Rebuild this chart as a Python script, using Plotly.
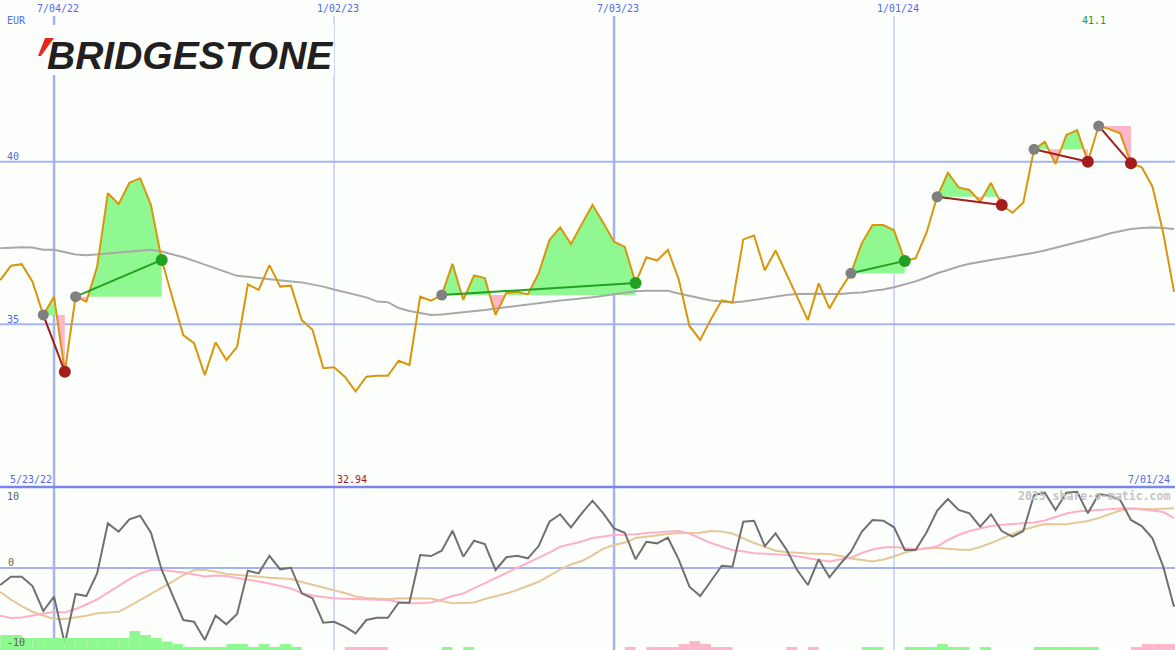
import pandas as pd
import plotly.graph_objects as go

# ---------------- data ----------------
start_date = "2022-05-30"
n_weeks = 110
dates = list(pd.date_range(start_date, periods=n_weeks, freq="7D"))

price = [36.36, 36.80, 36.85, 36.31, 35.29, 35.85, 33.54, 35.85, 35.70, 36.77,
         39.03, 38.70, 39.35, 39.49, 38.67, 36.98, 35.81, 34.67, 34.42, 33.44,
         34.45, 33.90, 34.31, 36.23, 36.06, 36.82, 36.16, 36.19, 35.13, 34.83,
         33.65, 33.68, 33.39, 32.94, 33.39, 33.42, 33.42, 33.88, 33.75, 35.85,
         35.73, 35.90, 36.86, 35.75, 36.50, 36.42, 35.29, 35.97, 36.00, 35.92,
         36.57, 37.59, 37.98, 37.47, 38.08, 38.67, 38.12, 37.54, 37.38, 36.27,
         37.06, 36.96, 37.29, 36.39, 34.95, 34.52, 35.16, 35.74, 35.67, 37.61,
         37.73, 36.66, 37.27, 36.55, 35.84, 35.13, 36.26, 35.49, 36.06, 36.57,
         37.49, 38.05, 38.05, 37.89, 36.95, 37.03, 37.80, 38.92, 39.66, 39.21,
         39.13, 38.77, 39.35, 38.67, 38.43, 38.74, 40.38, 40.61, 39.93, 40.82,
         40.97, 40.00, 41.10, 41.00, 40.87, 39.95, 39.83, 39.23, 37.80, 36.00]

moving_avg = [37.34, 37.36, 37.37, 37.36, 37.29, 37.29, 37.21, 37.15, 37.12, 37.15,
              37.19, 37.22, 37.25, 37.27, 37.29, 37.24, 37.16, 37.06, 36.95, 36.84,
              36.73, 36.62, 36.49, 36.46, 36.42, 36.38, 36.35, 36.32, 36.29, 36.23,
              36.16, 36.07, 35.99, 35.91, 35.83, 35.70, 35.68, 35.50, 35.41, 35.35,
              35.29, 35.30, 35.33, 35.37, 35.41, 35.44, 35.49, 35.53, 35.58, 35.63,
              35.66, 35.70, 35.73, 35.76, 35.79, 35.83, 35.88, 35.93, 35.98, 36.02,
              36.03, 36.03, 36.03, 35.95, 35.87, 35.79, 35.73, 35.70, 35.67, 35.70,
              35.75, 35.81, 35.86, 35.90, 35.93, 35.94, 35.94, 35.93, 35.93, 35.96,
              35.98, 36.03, 36.07, 36.14, 36.22, 36.32, 36.44, 36.57, 36.67, 36.78,
              36.86, 36.93, 36.98, 37.03, 37.08, 37.13, 37.20, 37.27, 37.35, 37.43,
              37.52, 37.61, 37.69, 37.79, 37.86, 37.93, 37.96, 37.98, 37.96, 37.93]

oscillator = [-2.33, -1.19, -1.19, -2.47, -5.89, -3.93, -10.41, -3.56, -3.84, -0.73,
              6.12, 4.97, 6.67, 7.16, 4.84, -0.27, -3.70, -7.12, -7.36, -9.86,
              -6.53, -7.71, -6.30, -0.37, -0.73, 1.68, -0.18, 0.04, -3.47, -4.15,
              -7.49, -7.36, -8.04, -8.95, -7.12, -6.81, -6.81, -4.75, -4.75, 1.78,
              1.64, 2.37, 5.11, 1.55, 3.74, 3.29, -0.27, 1.47, 1.68, 1.33,
              3.01, 6.34, 7.36, 5.58, 7.49, 9.22, 7.49, 5.44, 4.84, 1.19,
              3.60, 3.38, 4.15, 1.19, -2.56, -3.84, -1.78, 0.32, 0.18, 6.34,
              6.48, 3.01, 4.75, 2.56, -0.27, -2.33, 1.19, -1.27, 0.55, 2.23,
              4.97, 6.58, 6.48, 5.58, 2.47, 2.47, 4.84, 7.85, 9.45, 7.95,
              7.49, 5.66, 7.36, 5.07, 4.29, 5.07, 10.00, 10.32, 7.95, 10.32,
              10.45, 7.49, 10.14, 9.90, 9.32, 6.58, 5.75, 4.07, 0.18, -5.30]

osc_pink = [-6.53, -6.85, -6.78, -6.53, -6.23, -5.99, -6.10, -5.62, -5.00, -4.29,
            -3.36, -2.47, -1.51, -0.75, -0.27, -0.27, -0.41, -0.62, -0.89, -1.16,
            -1.03, -1.10, -1.37, -1.58, -1.85, -2.12, -2.47, -2.81, -3.42, -3.77,
            -3.97, -4.15, -4.22, -4.25, -4.25, -4.25, -4.38, -4.66, -4.84, -4.84,
            -4.73, -4.32, -3.84, -3.47, -2.74, -2.05, -1.37, -0.68, 0.00, 0.68,
            1.37, 2.12, 2.92, 3.29, 3.63, 4.11, 4.32, 4.52, 4.56, 4.62,
            4.79, 4.90, 4.97, 5.07, 4.73, 4.11, 3.42, 2.95, 2.47, 2.26,
            2.01, 1.96, 1.92, 1.78, 1.62, 1.33, 1.10, 0.89, 1.16, 1.44,
            2.05, 2.53, 2.81, 2.88, 2.74, 2.56, 2.67, 2.95, 3.84, 4.52,
            5.07, 5.44, 5.75, 5.92, 6.03, 6.10, 6.23, 6.51, 6.99, 7.47,
            7.74, 7.85, 7.95, 8.08, 8.15, 8.15, 8.04, 7.88, 7.67, 6.85]

osc_tan = [-3.25, -4.32, -5.21, -5.99, -6.51, -6.99, -6.99, -6.78, -6.53, -6.21,
           -6.07, -5.99, -5.21, -4.38, -3.49, -2.74, -1.85, -0.96, -0.27, -0.27,
           -0.48, -0.82, -0.96, -1.14, -1.23, -1.32, -1.41, -1.51, -1.92, -2.33,
           -2.67, -3.05, -3.42, -3.90, -4.11, -4.25, -4.29, -4.15, -4.15, -4.15,
           -4.18, -4.52, -4.84, -4.79, -4.73, -4.25, -3.90, -3.49, -3.01, -2.40,
           -1.88, -1.03, -0.21, 0.48, 0.96, 1.74, 2.67, 3.15, 3.49, 4.11,
           4.32, 4.48, 4.66, 4.79, 4.79, 4.84, 5.07, 5.00, 4.73, 4.11,
           3.42, 2.92, 2.37, 2.19, 2.05, 1.99, 1.95, 1.92, 1.64, 1.30,
           1.10, 0.89, 1.16, 1.58, 2.12, 2.47, 2.78, 2.74, 2.60, 2.53,
           2.47, 2.88, 3.42, 4.07, 4.66, 5.25, 5.68, 6.03, 6.00, 5.99,
           6.23, 6.44, 6.85, 7.40, 7.88, 8.15, 8.08, 8.04, 8.11, 8.18]

signal_bars = [15, 15, 12, 12, 12, 12, 12, 12, 12, 12,
               12, 12, 19, 15, 12, 8.5, 6, 3, 3, 3,
               3, 6, 6, 3, 6, 3, 6, 3, 0, 0,
               0, 0, -3, -3, -3, -3, 0, 0, 0, 0,
               0, 3, 0, 3, 0, 0, 0, 0, 0, 0,
               0, 0, 0, 0, 0, 0, 0, 0, -3, 0,
               -3, -3, -3, -6, -9, -6, -3, -3, 0, 0,
               0, 0, 0, -3, 0, -3, 0, 0, 0, 0,
               3, 3, 0, 0, 3, 3, 3, 6, 3, 3,
               0, 3, 0, 0, 0, 0, 3, 3, 3, 3,
               3, 3, 0, 0, 0, -3, -6, -6, -6, -6]

# trades: (entry week index, exit week index)
trade_entries = [4, 7, 41, 79, 87, 96, 102]
trade_exits = [6, 15, 59, 84, 93, 101, 105]

grid_dates = ["2022-07-04", "2023-01-02", "2023-07-03", "2024-01-01"]
grid_labels = ["7/04/22", "1/02/23", "7/03/23", "1/01/24"]
grid_thick = [True, False, True, False]
price_levels = [40, 35]
osc_levels = [10, 0, -10]

# ---------------- styling ----------------
W, H = 1175, 650
BG = "#fcfffc"
GRID = "#a6b3f2"
ORANGE = "#d9960c"
FILL_UP = "#90f890"
FILL_DN = "#ffb6c8"
UP = "#22a022"
DN = "#a41c1c"
LABEL_BLUE = "#5566ee"
MONO = "DejaVu Sans Mono"

split_px = 487
upper_dom = [(H - split_px) / H, 1.0]
lower_dom = [0.0, (H - split_px) / H]
y_upper = [30.0, 44.97]
y_lower = [-11.23, 11.10]

fig = go.Figure()

# ---------- trade fills ----------
for a, b in zip(trade_entries, trade_exits):
    level = price[a]
    xs, ys = [], []
    for i in range(a, b + 1):
        if i > a:
            p0, p1 = price[i - 1], price[i]
            if (p0 - level) * (p1 - level) < 0:
                f = (level - p0) / (p1 - p0)
                xs.append(dates[i - 1] + (dates[i] - dates[i - 1]) * f)
                ys.append(level)
        xs.append(dates[i])
        ys.append(price[i])
    up = [max(v, level) for v in ys]
    dn = [min(v, level) for v in ys]
    for arr, col in ((up, FILL_UP), (dn, FILL_DN)):
        fig.add_trace(go.Scatter(
            x=xs + xs[::-1], y=arr + [level] * len(xs),
            fill="toself", fillcolor=col, mode="lines", line=dict(width=0),
            hoverinfo="skip", showlegend=False, xaxis="x", yaxis="y"))

# ---------- moving average & price ----------
fig.add_trace(go.Scatter(x=dates, y=moving_avg, mode="lines",
                         line=dict(color="#a8a8a8", width=2),
                         showlegend=False, xaxis="x", yaxis="y"))
fig.add_trace(go.Scatter(x=dates, y=price, mode="lines",
                         line=dict(color=ORANGE, width=2),
                         showlegend=False, xaxis="x", yaxis="y"))

# ---------- trade lines & dots ----------
for a, b in zip(trade_entries, trade_exits):
    col = UP if price[b] > price[a] else DN
    fig.add_trace(go.Scatter(x=[dates[a], dates[b]], y=[price[a], price[b]],
                             mode="lines", line=dict(color=col, width=2),
                             showlegend=False, xaxis="x", yaxis="y"))
    fig.add_trace(go.Scatter(x=[dates[a]], y=[price[a]], mode="markers",
                             marker=dict(color="#808080", size=11),
                             showlegend=False, xaxis="x", yaxis="y"))
    fig.add_trace(go.Scatter(x=[dates[b]], y=[price[b]], mode="markers",
                             marker=dict(color=col, size=12),
                             showlegend=False, xaxis="x", yaxis="y"))

# ---------- lower panel ----------
bar_width = 7 * 24 * 3600 * 1000
fig.add_trace(go.Bar(x=dates, y=[v if v > 0 else 0 for v in signal_bars],
                     width=bar_width, offset=0, marker=dict(color=FILL_UP, line=dict(width=0)),
                     showlegend=False, xaxis="x", yaxis="y3"))
fig.add_trace(go.Bar(x=dates, y=[-v if v < 0 else 0 for v in signal_bars],
                     width=bar_width, offset=0, marker=dict(color=FILL_DN, line=dict(width=0)),
                     showlegend=False, xaxis="x", yaxis="y3"))
fig.add_trace(go.Scatter(x=dates, y=osc_tan, mode="lines",
                         line=dict(color="#e6c898", width=2),
                         showlegend=False, xaxis="x", yaxis="y2"))
fig.add_trace(go.Scatter(x=dates, y=osc_pink, mode="lines",
                         line=dict(color="#ffb0c8", width=2),
                         showlegend=False, xaxis="x", yaxis="y2"))
fig.add_trace(go.Scatter(x=dates, y=oscillator, mode="lines",
                         line=dict(color="#707070", width=2),
                         showlegend=False, xaxis="x", yaxis="y2"))

# ---------- grid shapes ----------
shapes = []
for lv in price_levels:
    shapes.append(dict(type="line", xref="paper", yref="y", x0=0, x1=1, y0=lv, y1=lv,
                       line=dict(color=GRID, width=2), layer="below"))
shapes.append(dict(type="line", xref="paper", yref="y2", x0=0, x1=1, y0=0, y1=0,
                   line=dict(color=GRID, width=2), layer="below"))
for d, thick in zip(grid_dates, grid_thick):
    shapes.append(dict(type="line", xref="x", yref="paper", x0=d, x1=d, y0=0, y1=(H - 16) / H,
                       line=dict(color=GRID, width=2.5 if thick else 1), layer="below"))
shapes.append(dict(type="line", xref="paper", yref="paper", x0=0, x1=1,
                   y0=lower_dom[1], y1=lower_dom[1],
                   line=dict(color="#7a86ea", width=2.5), layer="below"))
# logo backdrop
shapes.append(dict(type="rect", xref="paper", yref="paper", x0=34 / W, x1=334 / W,
                   y0=1 - 75 / H, y1=1 - 25 / H, fillcolor=BG, line=dict(width=0), layer="below"))
# red wedge of the logo
shapes.append(dict(type="path", xref="paper", yref="paper",
                   path=f"M {45/W} {1-38/H} L {54/W} {1-38/H} L {41/W} {1-56/H} L {38/W} {1-56/H} Z",
                   fillcolor="#e8281e", line=dict(width=0), layer="above"))

# ---------- annotations ----------
ann = []


def txt(x, y, s, color, size=10, xanchor="center", bold=False, family=MONO):
    ann.append(dict(x=x / W, y=1 - y / H, xref="paper", yref="paper", text=f"<b>{s}</b>" if bold else s,
                    showarrow=False, xanchor=xanchor, yanchor="middle",
                    font=dict(family=family, size=size, color=color)))


for lab, cx in zip(grid_labels, [58, 338, 618, 898]):
    txt(cx, 9, lab, LABEL_BLUE)
txt(5, 21, "EUR", LABEL_BLUE, xanchor="left")
txt(5, 156, str(price_levels[0]), LABEL_BLUE, xanchor="left")
txt(5, 319, str(price_levels[1]), LABEL_BLUE, xanchor="left")
txt(1094, 21, f"{max(price):.1f}", "#229922")
txt(8, 479, "5/23/22", LABEL_BLUE, xanchor="left")
txt(335, 479, f"{min(price):.2f}", "#a01818", xanchor="left")
txt(1172, 479, "7/01/24", LABEL_BLUE, xanchor="right")
txt(5, 496, str(osc_levels[0]), "#606060", xanchor="left")
txt(6, 562, str(osc_levels[1]), "#606060", xanchor="left")
txt(5, 642, str(osc_levels[2]), "#606060", xanchor="left")
txt(1172, 496, "2025 share-o-matic.com", "#c4c4c4", size=11.5, xanchor="right", bold=True)
# logo text
ann.append(dict(x=45 / W, y=1 - 56 / H, xref="paper", yref="paper",
                text="<b><i>BRIDGESTONE</i></b>", showarrow=False, xanchor="left", yanchor="middle",
                font=dict(family="Liberation Sans", size=39, color="#231f20")))

fig.update_layout(
    width=W, height=H, margin=dict(l=0, r=0, t=0, b=0),
    paper_bgcolor=BG, plot_bgcolor=BG, showlegend=False, barmode="overlay",
    xaxis=dict(type="date", range=["2022-05-29 21:00", "2024-07-01 15:00"], visible=False,
               domain=[0, 1], fixedrange=True),
    yaxis=dict(domain=upper_dom, range=y_upper, visible=False, anchor="x"),
    yaxis2=dict(domain=lower_dom, range=y_lower, visible=False, anchor="x"),
    yaxis3=dict(overlaying="y2", range=[0, 163], visible=False, anchor="x"),
    shapes=shapes, annotations=ann,
)

fig.write_html("out.html", config={"displayModeBar": False},
               post_script="document.body.style.margin='0';document.body.style.overflow='hidden';")
